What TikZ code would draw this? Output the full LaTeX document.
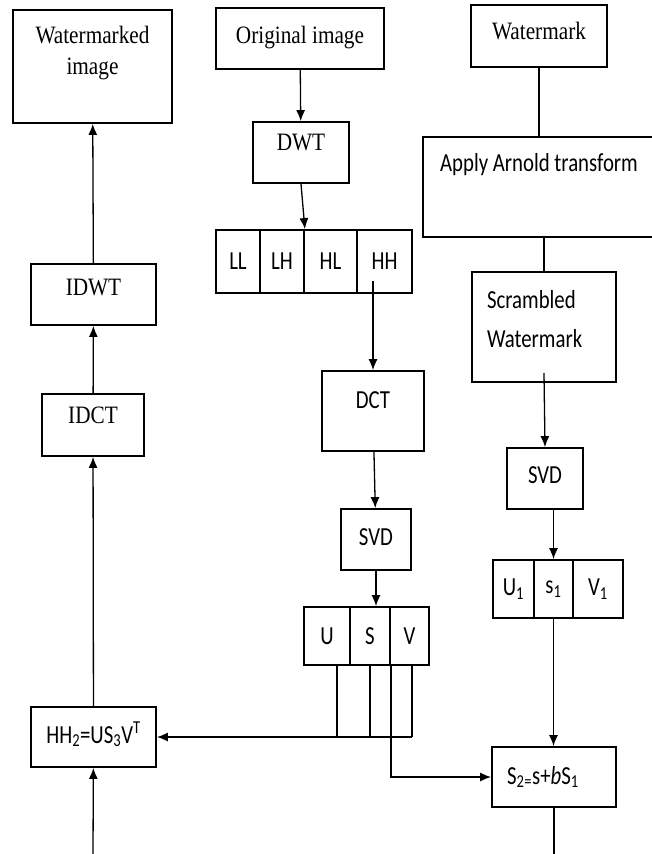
\documentclass[tikz,border=0pt]{standalone}
\usepackage{fontspec}
\setmainfont{Liberation Serif}
\newfontfamily\serf[FakeStretch=0.85]{Liberation Serif}
\newfontfamily\sanf[FakeStretch=0.8]{Carlito}
\usetikzlibrary{arrows.meta, calc}
\tikzstyle{arrow} = [line width=1.3pt, -{Latex[length=11pt,width=9pt]}]
\tikzstyle{plain} = [line width=1.3pt]

\begin{document}
\begin{tikzpicture}[x=1pt, y=-1pt,
    box/.style={draw, line width=1.8pt, inner sep=0pt, align=center},
    sr/.style={box, font=\serf\fontsize{25}{31}\selectfont},
    sn/.style={box, font=\sanf\fontsize{26}{39}\selectfont},
    lift/.style={text height=16pt, text depth=#1pt}]

  \useasboundingbox (0,0) rectangle (652,854);

  % left column
  \node[sr, minimum width=159pt, minimum height=113pt, lift=62, text width=150pt] (wimg) at (92.5,66.5) {Watermarked\\image};
  \node[sr, minimum width=125pt, minimum height=61pt, lift=14]  (idwt) at (93.5,294.5) {IDWT};
  \node[sr, minimum width=102pt, minimum height=62pt, lift=20]  (idct) at (93,425) {IDCT};
  \node[sn, minimum width=125pt, minimum height=60pt, lift=4]   (hh2)  at (93.5,737) {HH\textsubscript{2}=US\textsubscript{3}V\textsuperscript{T}};

  % middle column
  \node[sr, minimum width=168pt, minimum height=61pt, lift=6]  (orig) at (300,38.5) {Original image};
  \node[sr, minimum width=96pt, minimum height=61pt, lift=20]  (dwt)  at (301,152.5) {DWT};
  \node[sn, minimum width=44pt, minimum height=63pt] (ll) at (238,261.5) {LL};
  \node[sn, minimum width=44pt, minimum height=63pt] (lh) at (282,261.5) {LH};
  \node[sn, minimum width=53pt, minimum height=63pt] (hl) at (330.5,261.5) {HL};
  \node[sn, minimum width=55pt, minimum height=63pt] (hh) at (384.5,261.5) {HH};
  \node[sn, minimum width=102pt, minimum height=80pt, lift=22] (dct)  at (373,411) {DCT};
  \node[sn, minimum width=70pt, minimum height=61pt, lift=4]   (svda) at (376,539.5) {SVD};
  \node[sn, minimum width=46pt, minimum height=58pt] (u) at (327,636) {U};
  \node[sn, minimum width=40pt, minimum height=58pt] (s) at (370,636) {S};
  \node[sn, minimum width=39pt, minimum height=58pt] (v) at (409.5,636) {V};

  % right column
  \node[sr, minimum width=136pt, minimum height=62pt, lift=10]  (wm)     at (539,36) {Watermark};
  \node[sn, minimum width=232pt, minimum height=100pt, lift=48] (arnold) at (539,187) {Apply Arnold transform};
  \node[sn, minimum width=144pt, minimum height=110pt, lift=53, text width=114pt, align=left] (scr) at (544,327) {Scrambled\\Watermark};
  \node[sn, minimum width=76pt, minimum height=61pt, lift=6] (svdb) at (545,478.5) {SVD};
  \node[sn, minimum width=41pt, minimum height=58pt] (ua) at (513.5,589) {U\textsubscript{1}};
  \node[sn, minimum width=39pt, minimum height=58pt] (sa) at (553.5,589) {s\textsubscript{1}};
  \node[sn, minimum width=50pt, minimum height=58pt] (va) at (598,589) {V\textsubscript{1}};
  \node[sn, minimum width=124pt, minimum height=60pt, text width=94pt, align=left] (s2) at (554,777) {S\textsubscript{2}\textsubscript{=}s+\textit{b}S\textsubscript{1}};

  \coordinate (inL)  at (93,854);
  \coordinate (outR) at (554,854);

  % reconstruction path
  \draw[arrow] (inL) -- (hh2);
  \draw[arrow] (hh2) -- (idct);
  \draw[arrow] (idct) -- (idwt);
  \draw[arrow] (idwt) -- (wimg);

  % host image path
  \draw[arrow] (orig) -- (dwt);
  \draw[arrow] (dwt.south) -- (lh.north east);
  \draw[arrow] ([yshift=13pt]hh.south -| dct.north) -- (dct.north);
  \draw[arrow] (dct) -- (svda);
  \draw[arrow] (svda.south) -- (svda.south |- s.north);
  \draw[plain] ([xshift=10pt]u.south) -- ([xshift=10pt]u.south |- hh2.east);
  \draw[plain] (s.south) -- (s.south |- hh2.east);
  \draw[plain] ([xshift=2.5pt]v.south) -- ([xshift=2.5pt]v.south |- hh2.east);
  \draw[arrow] ([xshift=2.5pt]v.south |- hh2.east) -- (hh2.east);
  \draw[arrow] (s.south east) |- (s2.west);

  % watermark path
  \draw[plain] (wm) -- (arnold);
  \draw[plain] (scr.north |- arnold.south) -- (scr.north);
  \draw[arrow] ([yshift=10pt]scr.south) -- (svdb.north);
  \draw[arrow] (sa.north |- svdb.south) -- (sa.north);
  \draw[arrow] (sa.south) -- (sa.south |- s2.north);
  \draw[plain] (s2) -- (outR);
\end{tikzpicture}
\end{document}
